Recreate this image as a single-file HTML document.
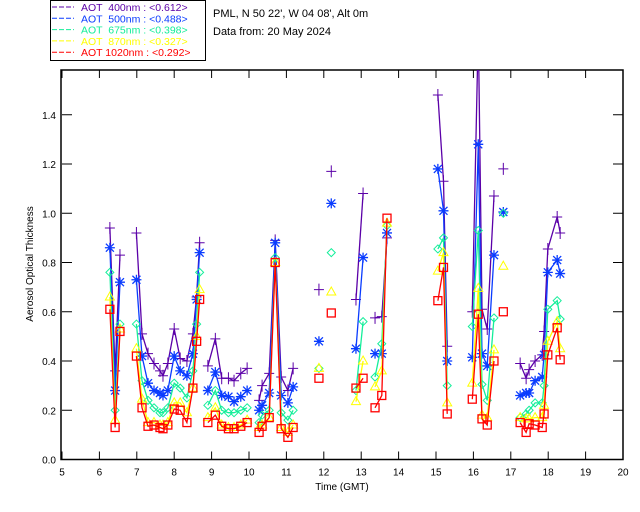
<!DOCTYPE html>
<html><head><meta charset="utf-8"><style>
html,body{margin:0;padding:0;background:#fff;}
svg{display:block;font-family:"Liberation Sans",sans-serif;}
</style></head><body>
<svg id="chart" width="640" height="512" viewBox="0 0 640 512" xmlns="http://www.w3.org/2000/svg">
<rect x="50.5" y="0.5" width="155" height="60" fill="#fff" stroke="#000"/>
<g id="legend" font-size="10.5"></g>
<text x="213" y="17" font-size="11">PML, N 50 22', W 04 08', Alt 0m</text>
<text x="213" y="35" font-size="11">Data from: 20 May 2024</text>
<g id="axes"></g>
<text transform="translate(33,264) rotate(-90)" text-anchor="middle" font-size="10">Aerosol Optical Thickness</text>
<text x="342" y="490" text-anchor="middle" font-size="10">Time (GMT)</text>
<defs><clipPath id="pc"><rect x="61" y="70" width="562" height="390"/></clipPath></defs>
<g id="plot" clip-path="url(#pc)"></g>
</svg>
<script>
// data (null time = gap)
const times=[6.28,6.42,6.55,null,
6.99,7.14,7.3,7.46,7.62,7.7,7.83,8.0,8.16,8.34,8.5,8.6,8.68,null,
8.9,9.1,9.27,9.45,9.6,9.78,9.95,null,
10.27,10.35,10.54,10.7,10.86,11.04,11.18,null,
11.87,null,12.2,null,12.86,13.05,null,13.37,13.55,13.69,null,
15.05,15.2,15.3,null,15.97,16.13,16.23,16.37,16.55,null,16.8,null,
17.25,17.41,17.49,17.65,17.84,17.89,17.99,18.24,18.32];
const aot400=[0.94,0.36,0.83,null,
0.92,0.51,0.43,0.39,0.36,0.34,0.39,0.53,0.41,0.40,0.51,0.66,0.88,null,
0.38,0.49,0.33,0.33,0.32,0.35,0.37,null,
0.24,0.30,0.35,0.89,0.335,0.28,0.37,null,
0.69,null,1.17,null,0.65,1.08,null,0.575,0.58,0.90,null,
1.48,1.13,0.46,null,0.60,1.75,0.61,0.53,1.07,null,1.18,null,
0.39,0.33,0.365,0.40,0.425,0.52,0.855,0.985,0.92];
const aot500=[0.86,0.28,0.72,null,
0.73,0.42,0.31,0.28,0.27,0.26,0.28,0.42,0.36,0.34,0.43,0.65,0.84,null,
0.28,0.355,0.26,0.255,0.235,0.255,0.28,null,
0.20,0.22,0.27,0.88,0.26,0.23,0.295,null,
0.48,null,1.04,null,0.45,0.82,null,0.43,0.43,0.92,null,
1.18,1.01,0.40,null,0.415,1.28,0.43,0.38,0.83,null,1.005,null,
0.26,0.27,0.27,0.32,0.335,0.425,0.76,0.81,0.755];
const aot675=[0.76,0.20,0.55,null,
0.55,0.32,0.24,0.21,0.19,0.19,0.21,0.31,0.29,0.25,0.36,0.55,0.76,null,
0.22,0.28,0.20,0.19,0.19,0.20,0.21,null,
0.15,0.18,0.20,0.82,0.19,0.16,0.20,null,
0.37,null,0.84,null,0.28,0.56,null,0.335,0.47,0.95,null,
0.855,0.90,0.30,null,0.54,0.93,0.305,0.24,0.575,null,1.0,null,
0.17,0.185,0.20,0.23,0.23,0.30,0.61,0.645,0.57];
const aot870=[0.66,0.16,0.53,null,
0.45,0.245,0.15,0.15,0.14,0.14,0.15,0.23,0.23,0.19,0.29,0.50,0.69,null,
0.17,0.21,0.14,0.13,0.13,0.14,0.16,null,
0.13,0.14,0.17,0.80,0.13,0.11,0.14,null,
0.37,null,0.68,null,0.235,0.40,null,0.295,0.36,0.96,null,
0.765,0.84,0.23,null,0.31,0.695,0.18,0.17,0.445,null,0.785,null,
0.17,0.165,0.165,0.17,0.17,0.22,0.48,0.56,0.45];
const aot1020=[0.61,0.13,0.52,null,
0.42,0.21,0.135,0.14,0.13,0.125,0.14,0.205,0.20,0.15,0.29,0.48,0.65,null,
0.15,0.18,0.135,0.125,0.125,0.135,0.15,null,
0.11,0.135,0.17,0.80,0.125,0.09,0.13,null,
0.33,null,0.595,null,0.29,0.33,null,0.21,0.26,0.98,null,
0.645,0.78,0.185,null,0.245,0.59,0.165,0.14,0.40,null,0.60,null,
0.15,0.11,0.145,0.14,0.13,0.185,0.425,0.535,0.405];
const legendLabels=["AOT  400nm : <0.612>","AOT  500nm : <0.488>","AOT  675nm : <0.398>","AOT  870nm : <0.327>","AOT 1020nm : <0.292>"];
const xTicks=[5,6,7,8,9,10,11,12,13,14,15,16,17,18,19,20];
const yTicks=[0.0,0.2,0.4,0.6,0.8,1.0,1.2,1.4];

const NS="http://www.w3.org/2000/svg";
const X0=62,X1=623,Y0=459.5,YTOP=70;
const xs=h=>X0+(h-5)*(X1-X0)/15;
const ys=v=>Y0-v*246.25;
function mk(tag,at,parent){const e=document.createElementNS(NS,tag);for(const k in at)e.setAttribute(k,at[k]);parent.appendChild(e);return e;}
const axes=document.getElementById('axes'),plot=document.getElementById('plot'),leg=document.getElementById('legend');
const frame=mk('rect',{x:X0-1,y:YTOP,width:X1-X0+1,height:Y0-YTOP,fill:'none',stroke:'#000','stroke-width':1.5},axes);


xTicks.forEach(h=>{const x=xs(h);
 mk('line',{x1:x,y1:Y0,x2:x,y2:Y0-8,stroke:'#000'},axes);
 mk('line',{x1:x,y1:YTOP,x2:x,y2:YTOP+8,stroke:'#000'},axes);
 const t=mk('text',{x:x,y:Y0+16,'text-anchor':'middle','font-size':10},axes);t.textContent=h;
 
 
});
yTicks.forEach(v=>{const y=ys(v);
 mk('line',{x1:X0,y1:y,x2:X0+10,y2:y,stroke:'#000'},axes);
 mk('line',{x1:X1,y1:y,x2:X1-10,y2:y,stroke:'#000'},axes);
 const t=mk('text',{x:X0-6,y:y+4,'text-anchor':'end','font-size':10},axes);t.textContent=v.toFixed(1);
 
 
});
const series=[[aot400,'#5b00a8','plus'],[aot500,'#0a3cff','star'],[aot675,'#14ee9a','diamond'],[aot870,'#ffff00','tri'],[aot1020,'#ff0000','square']];
const names=['series-400nm','series-500nm','series-675nm','series-870nm','series-1020nm'];
series.forEach(([vals,col,m],si)=>{
 const g=mk('g',{},plot);
 
 
 let seg=[];
 const flush=()=>{if(seg.length>1)mk('polyline',{points:seg.join(' '),fill:'none',stroke:col,'stroke-width':1.3},g);seg=[];};
 times.forEach((t,i)=>{if(t===null||vals[i]===null){flush();return;}seg.push(xs(t).toFixed(1)+','+ys(vals[i]).toFixed(1));});
 flush();
 times.forEach((t,i)=>{if(t===null||vals[i]===null)return;const x=xs(t),y=ys(vals[i]);let e;
  if(m==='plus')e=mk('path',{d:`M${x-5},${y}H${x+5}M${x},${y-6}V${y+6}`,stroke:col,fill:'none'},g);
  else if(m==='star')e=mk('path',{d:`M${x-5},${y}H${x+5}M${x},${y-5}V${y+5}M${x-4},${y-4}L${x+4},${y+4}M${x-4},${y+4}L${x+4},${y-4}`,stroke:col,fill:'none','stroke-width':1.3},g);
  else if(m==='diamond')e=mk('path',{d:`M${x},${y-4}L${x+4},${y}L${x},${y+4}L${x-4},${y}Z`,stroke:col,fill:'none'},g);
  else if(m==='tri')e=mk('path',{d:`M${x},${y-5}L${x+4.5},${y+3}L${x-4.5},${y+3}Z`,stroke:col,fill:'none'},g);
  else e=mk('rect',{x:x-4,y:y-4,width:8,height:8,stroke:col,fill:'none','stroke-width':1.3},g);
  
  
 });
 const ly=10+si*11.3;
 mk('line',{x1:52,y1:ly-3,x2:74,y2:ly-3,stroke:col,'stroke-dasharray':'5,2'},leg);
 const t=mk('text',{x:81,y:ly+1,fill:col,'xml:space':'preserve'},leg);t.textContent=legendLabels[si];
 t.setAttribute('style','white-space:pre');
 
 
});
</script>
</body></html>
